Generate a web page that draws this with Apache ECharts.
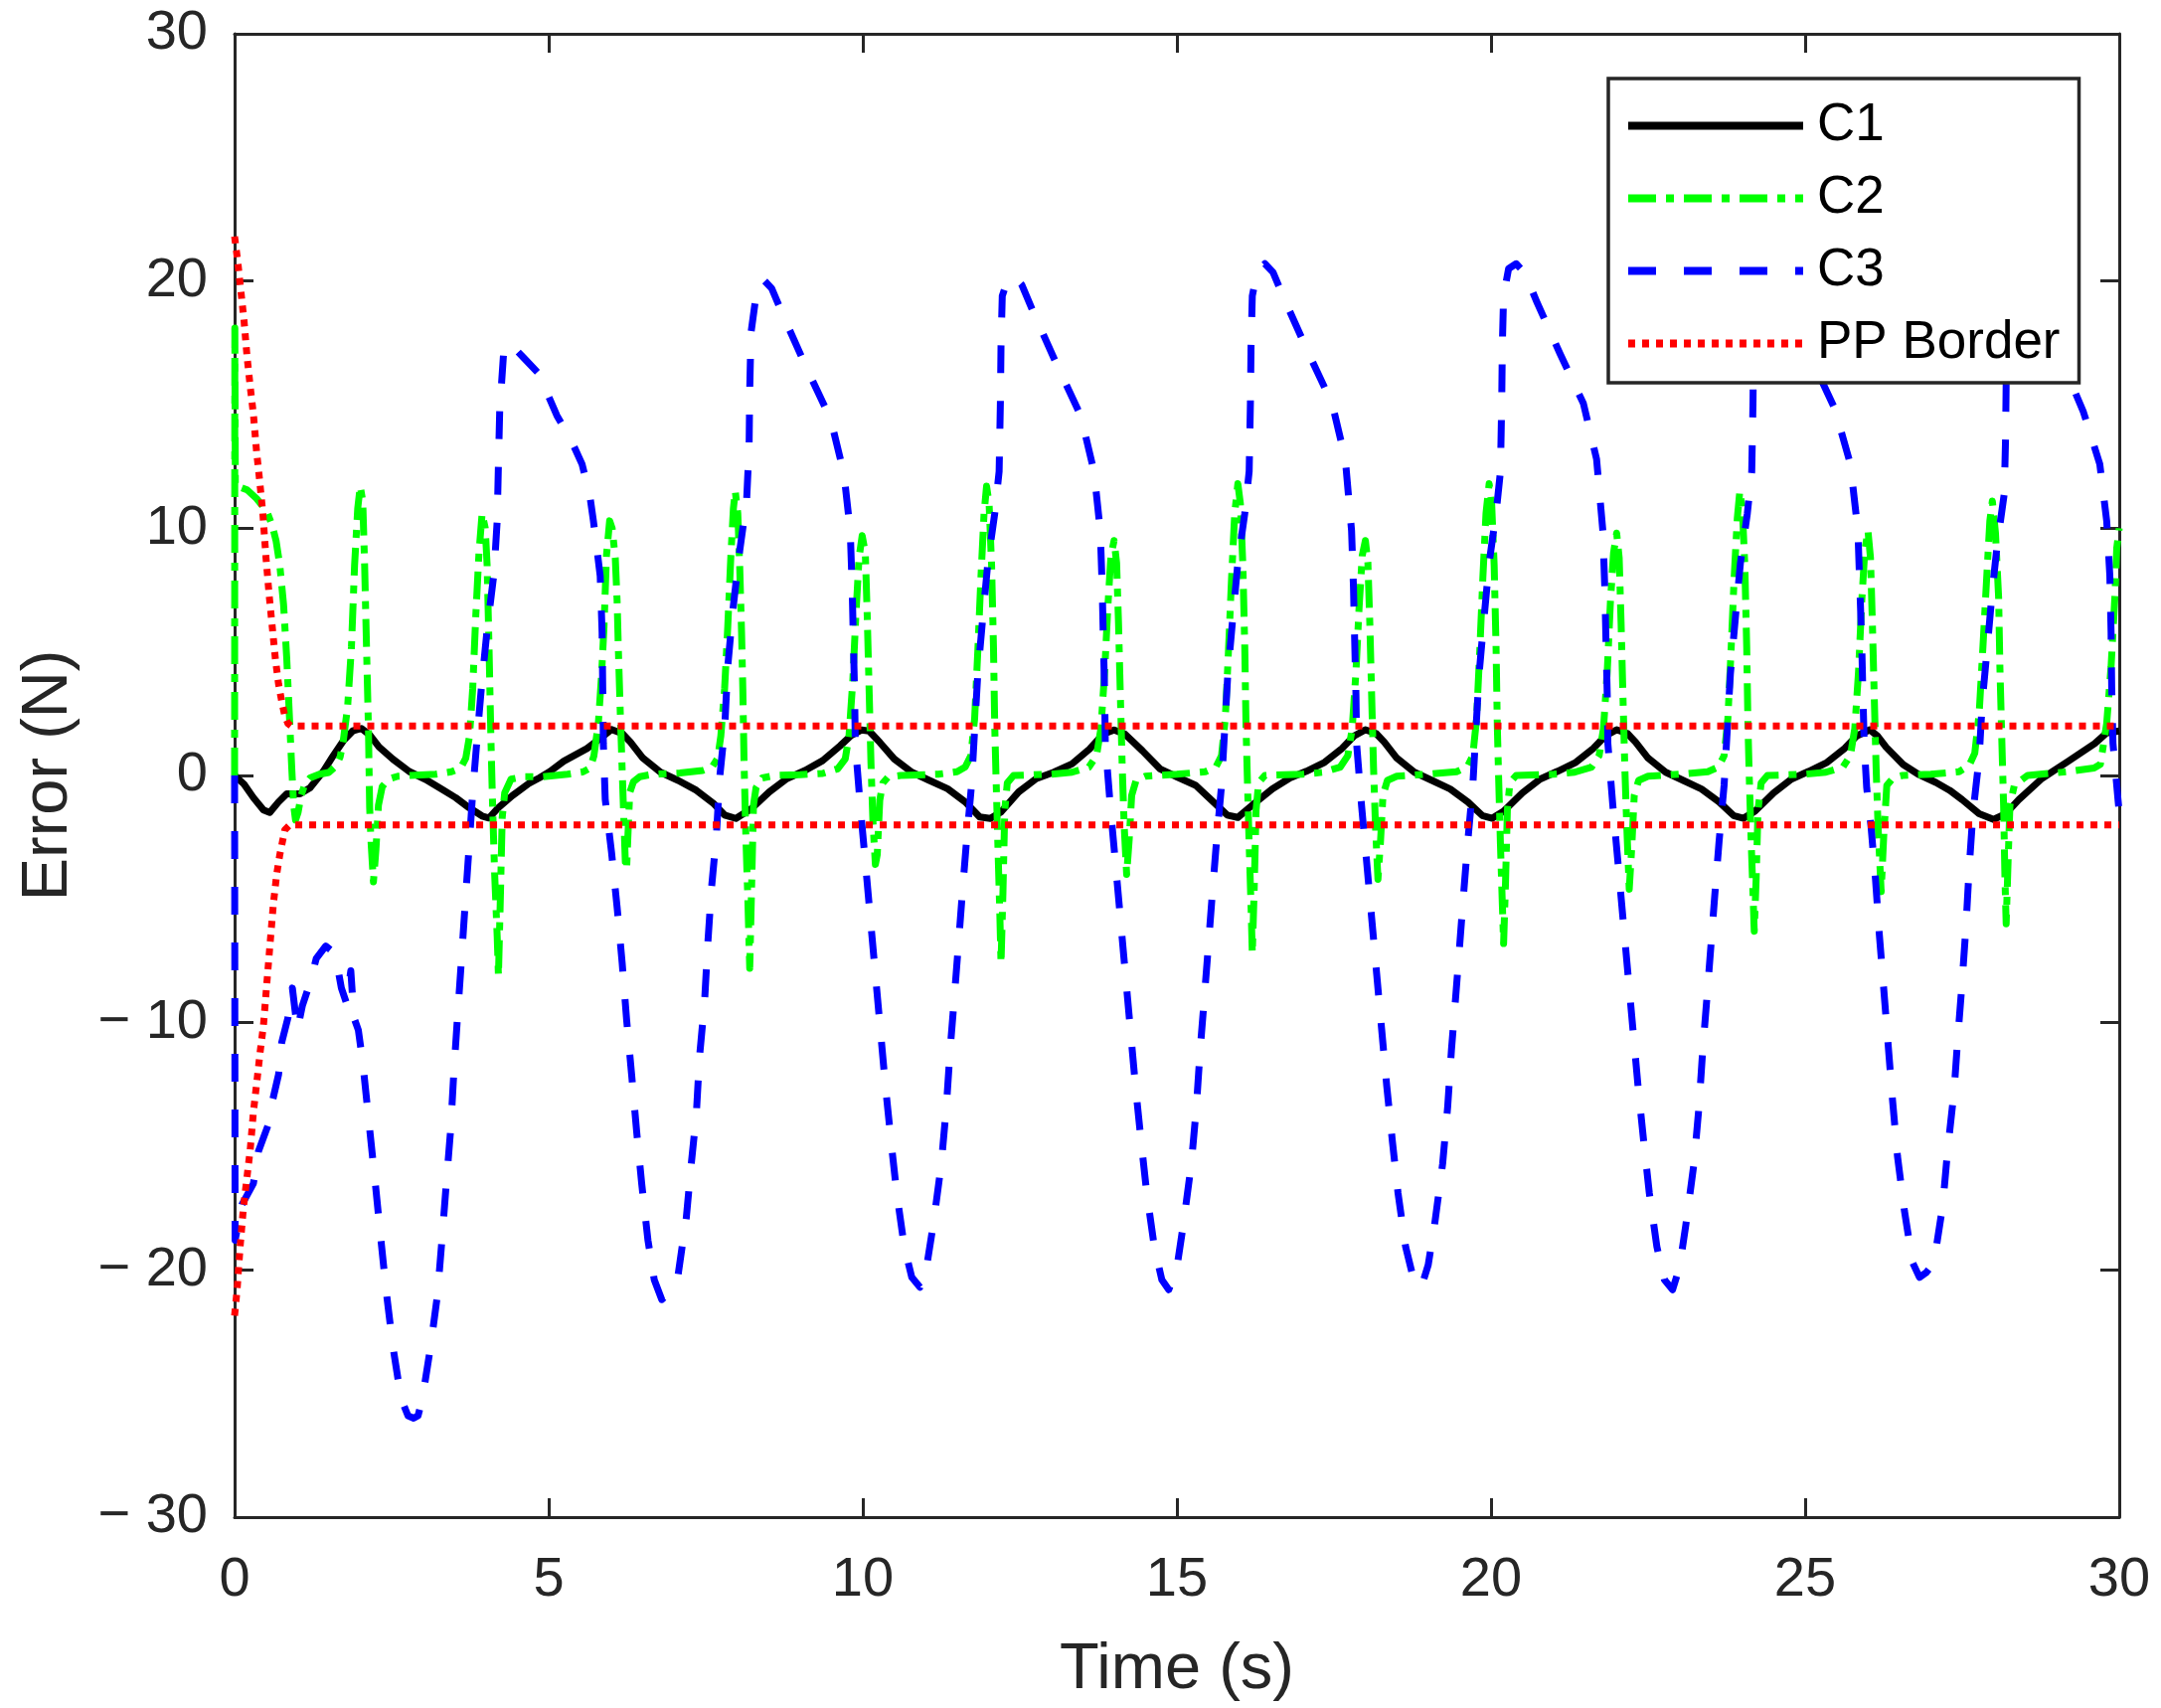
<!DOCTYPE html>
<html>
<head>
<meta charset="utf-8">
<script src="https://cdn.jsdelivr.net/npm/echarts@6/dist/echarts.min.js"></script>
<style>
html,body{margin:0;padding:0;background:#fff;}
#chart{width:2174px;height:1718px;}
</style>
</head>
<body>
<div id="chart"></div>
<script>
// ---- data ----
var seriesNames = ['C1', 'C2', 'C3', 'PP Border'];
var xTicks = [0, 5, 10, 15, 20, 25, 30];
var yTicks = [-30, -20, -10, 0, 10, 20, 30];

var c1 = [[0,0],[0.15,-0.35],[0.3,-0.9],[0.46,-1.4],[0.56,-1.5],[0.7,-1.07],[0.83,-0.74],[1.04,-0.74],[1.2,-0.5],[1.41,0.16],[1.57,0.8],[1.73,1.4],[1.88,1.8],[2.02,1.9],
[2.15,1.64],[2.3,1.15],[2.52,0.66],[2.78,0.16],[3.04,-0.16],[3.31,-0.57],[3.52,-0.9],[3.73,-1.3],[3.94,-1.64],[4.05,-1.72],[4.2,-1.3],[4.42,-0.82],[4.68,-0.33],[4.85,-0.1],[5.02,0.16],[5.24,0.58],[5.61,1.09],[5.84,1.54],[6.0,1.86],
[6.17,1.7],[6.3,1.35],[6.5,0.7],[6.78,0.13],[7.06,-0.2],[7.35,-0.6],[7.63,-1.15],[7.8,-1.6],[7.98,-1.74],[8.23,-1.34],[8.51,-0.67],[8.79,-0.13],[9.08,0.2],[9.36,0.6],[9.64,1.2],[9.81,1.61],[9.98,1.84],
[10.1,1.8],[10.27,1.34],[10.5,0.67],[10.78,0.13],[11.06,-0.2],[11.35,-0.54],[11.63,-1.07],[11.86,-1.68],[12.03,-1.74],[12.2,-1.48],[12.48,-0.67],[12.76,-0.13],[13.04,0.13],[13.33,0.47],[13.61,1.07],[13.83,1.68],[14.0,1.84],
[14.17,1.68],[14.45,1.0],[14.73,0.27],[15.01,-0.07],[15.3,-0.4],[15.58,-1.07],[15.8,-1.6],[15.97,-1.7],[16.2,-1.2],[16.52,-0.54],[16.8,-0.1],[17.06,0.17],[17.35,0.53],[17.63,1.1],[17.82,1.6],[18.0,1.85],
[18.17,1.7],[18.3,1.35],[18.5,0.7],[18.78,0.13],[19.06,-0.2],[19.35,-0.55],[19.63,-1.07],[19.86,-1.62],[20.02,-1.73],[20.2,-1.45],[20.5,-0.7],[20.78,-0.15],[21.06,0.17],[21.35,0.53],[21.63,1.1],[21.82,1.6],[22.0,1.85],
[22.17,1.7],[22.3,1.35],[22.5,0.7],[22.78,0.13],[23.06,-0.2],[23.35,-0.55],[23.63,-1.07],[23.86,-1.62],[24.02,-1.73],[24.2,-1.45],[24.5,-0.7],[24.78,-0.15],[25.06,0.17],[25.35,0.53],[25.63,1.1],[25.82,1.6],[26.03,1.85],
[26.15,1.6],[26.29,1.14],[26.56,0.44],[26.8,0.05],[27.08,-0.28],[27.3,-0.6],[27.5,-0.98],[27.77,-1.55],[28.0,-1.78],[28.19,-1.55],[28.4,-0.98],[28.77,-0.12],[29.19,0.58],[29.61,1.29],[29.8,1.72],[30,1.8]];

var c2 = [[0,0],[0.004,18.1],[0.012,11.7],[0.1,11.65],[0.2,11.55],[0.35,11.2],[0.51,10.7],[0.6,10.1],[0.66,9.5],[0.72,8.5],[0.78,6.9],[0.83,4.75],[0.88,2.0],[0.91,0.3],[0.94,-1.2],[0.97,-1.8],[1.01,-1.5],[1.06,-0.8],[1.12,-0.35],[1.2,-0.1],[1.35,0.05],[1.5,0.12],[1.62,0.4],[1.68,0.75],[1.73,1.4],[1.8,2.8],[1.86,5.2],[1.91,8.5],[1.96,10.8],[2.0,11.7],[2.04,11.1],[2.07,8.5],[2.1,5.2],[2.13,2.0],[2.15,-1.3],[2.17,-2.6],[2.21,-4.3],[2.25,-3.0],[2.29,-1.2],[2.35,-0.45],[2.45,-0.15],[2.6,-0.03],[2.8,0],[3.2,0.05],[3.45,0.15],[3.6,0.3],[3.68,0.7],[3.74,1.6],[3.79,3.5],[3.84,6.5],[3.89,9.0],[3.94,10.6],[3.99,10.0],[4.02,8.5],[4.05,5.2],[4.08,1.5],[4.11,-1.5],[4.14,-4.0],[4.18,-6.5],[4.2,-8.1],[4.23,-5.0],[4.26,-1.7],[4.3,-0.7],[4.4,-0.15],[4.6,-0.05],[4.9,-0.05],[5.3,0.05],[5.55,0.15],[5.66,0.3],[5.72,0.8],[5.79,2.1],[5.84,4.0],[5.88,6.0],[5.92,8.9],[5.97,10.3],[6.01,10.0],[6.06,8.8],[6.09,7.0],[6.11,5.0],[6.14,2.5],[6.17,0.2],[6.19,-1.3],[6.22,-3.5],[6.24,-3.8],[6.26,-2.5],[6.29,-0.7],[6.35,-0.25],[6.45,-0.05],[6.66,0.05],[7.09,0.1],[7.45,0.2],[7.6,0.34],[7.69,0.7],[7.74,1.6],[7.8,3.5],[7.85,6.0],[7.9,8.9],[7.94,10.8],[7.97,11.5],[8.01,10.6],[8.04,8.5],[8.07,5.8],[8.09,3.5],[8.11,0.5],[8.14,-2.6],[8.17,-5.0],[8.2,-7.8],[8.23,-4.5],[8.26,-1.2],[8.3,-0.5],[8.4,-0.1],[8.6,0],[9.0,0.03],[9.36,0.08],[9.6,0.27],[9.72,0.67],[9.78,1.6],[9.84,3.8],[9.89,6.5],[9.94,8.8],[9.99,9.7],[10.04,9.0],[10.07,6.5],[10.1,3.5],[10.13,0.5],[10.16,-1.8],[10.2,-3.6],[10.23,-3.2],[10.27,-1.0],[10.32,-0.3],[10.4,-0.07],[10.6,0],[11.2,0.05],[11.5,0.15],[11.63,0.34],[11.72,0.8],[11.78,2.3],[11.83,5.0],[11.88,8.0],[11.93,10.6],[11.97,11.7],[12.01,11.0],[12.05,8.5],[12.08,5.2],[12.1,2.0],[12.12,0],[12.15,-2.8],[12.18,-5.5],[12.2,-7.6],[12.23,-4.8],[12.26,-1.4],[12.3,-0.3],[12.4,0],[13.0,0.05],[13.33,0.13],[13.6,0.34],[13.72,0.8],[13.79,1.9],[13.85,4.2],[13.9,6.8],[13.95,8.9],[14.0,9.5],[14.04,8.6],[14.07,6.2],[14.1,3.2],[14.13,0.3],[14.16,-2.0],[14.2,-4.0],[14.24,-2.6],[14.28,-0.8],[14.35,-0.2],[14.5,-0.03],[15.0,0.05],[15.45,0.15],[15.62,0.34],[15.71,0.8],[15.77,2.3],[15.82,5.0],[15.87,8.0],[15.92,10.6],[15.97,11.8],[16.01,11.0],[16.05,8.5],[16.08,5.2],[16.1,2.0],[16.12,0],[16.15,-2.8],[16.18,-5.3],[16.2,-7.2],[16.23,-4.6],[16.26,-1.4],[16.3,-0.3],[16.4,0],[17.0,0.05],[17.33,0.13],[17.6,0.34],[17.72,0.8],[17.79,1.9],[17.85,4.2],[17.9,6.8],[17.95,8.9],[18.0,9.5],[18.04,8.6],[18.07,6.2],[18.1,3.2],[18.13,0.3],[18.16,-2.0],[18.2,-4.2],[18.24,-2.7],[18.28,-0.8],[18.35,-0.2],[18.5,-0.03],[19.0,0.05],[19.45,0.15],[19.62,0.34],[19.71,0.8],[19.77,2.3],[19.82,5.0],[19.87,8.0],[19.92,10.6],[19.97,11.8],[20.01,11.0],[20.05,8.5],[20.08,5.2],[20.1,2.0],[20.12,0],[20.15,-2.8],[20.18,-5.2],[20.2,-6.8],[20.23,-4.4],[20.26,-1.4],[20.3,-0.3],[20.4,0],[21.0,0.05],[21.33,0.13],[21.6,0.34],[21.72,0.8],[21.79,1.9],[21.85,4.2],[21.9,7.0],[21.95,9.0],[22.0,9.8],[22.04,8.8],[22.07,6.2],[22.1,3.2],[22.13,0.3],[22.16,-2.0],[22.2,-4.6],[22.24,-2.9],[22.28,-0.8],[22.35,-0.2],[22.5,-0.03],[23.0,0.05],[23.45,0.15],[23.62,0.34],[23.71,0.8],[23.77,2.3],[23.82,5.0],[23.87,8.0],[23.92,10.4],[23.96,11.5],[24.0,10.8],[24.04,8.5],[24.07,5.2],[24.09,2.0],[24.11,0],[24.14,-2.6],[24.17,-4.8],[24.19,-6.3],[24.22,-4.2],[24.25,-1.4],[24.3,-0.3],[24.4,0],[25.0,0.05],[25.33,0.13],[25.6,0.34],[25.72,0.8],[25.79,1.9],[25.85,4.2],[25.9,7.0],[25.95,9.1],[26.0,9.9],[26.04,8.8],[26.07,6.2],[26.1,3.2],[26.13,0.3],[26.16,-2.0],[26.21,-4.7],[26.25,-2.5],[26.3,-0.4],[26.4,-0.1],[26.55,0],[27.0,0.05],[27.45,0.15],[27.61,0.4],[27.7,0.9],[27.77,2.5],[27.83,5.2],[27.89,8.0],[27.94,10.3],[27.98,11.1],[28.03,9.8],[28.08,7.2],[28.1,4.4],[28.13,1.5],[28.16,-1.3],[28.18,-4.1],[28.2,-6.0],[28.23,-3.5],[28.26,-1.2],[28.33,-0.4],[28.54,0],[29.17,0.15],[29.6,0.3],[29.7,0.45],[29.8,2.1],[29.87,4.4],[29.93,7.2],[29.96,9.2],[30.0,10.0]];

var c3 = [[0,0],[0.008,-18.8],[0.12,-17.35],[0.3,-16.5],[0.38,-15.2],[0.54,-14.1],[0.6,-13.2],[0.7,-12.1],[0.75,-10.8],[0.85,-9.8],[0.92,-8.6],[1.0,-10.3],[1.08,-9.3],[1.2,-8.4],[1.3,-7.4],[1.45,-6.9],[1.6,-7.2],[1.7,-8.6],[1.78,-9.2],[1.85,-7.9],[1.9,-9.8],[1.97,-10.3],[2.04,-11.6],[2.15,-14.3],[2.24,-16.5],[2.33,-18.8],[2.42,-21],[2.52,-23.1],[2.65,-25.2],[2.76,-25.9],[2.85,-26.0],[2.92,-25.9],[2.99,-25.2],[3.12,-23.1],[3.23,-21],[3.3,-18.8],[3.37,-16.5],[3.44,-14.3],[3.49,-12],[3.55,-9.7],[3.61,-7.5],[3.67,-5.2],[3.73,-3.0],[3.79,-0.7],[3.86,1.5],[3.93,3.6],[4.02,5.9],[4.13,8.2],[4.18,10.3],[4.2,12.6],[4.22,14.75],[4.28,17.0],[4.34,17.5],[4.45,17.3],[4.6,16.9],[4.84,16.26],[5.13,14.56],[5.35,13.6],[5.53,12.6],[5.65,11.4],[5.71,10.33],[5.78,8.9],[5.82,8.07],[5.85,5.8],[5.86,3.55],[5.87,1.29],[5.9,-0.97],[6.0,-3.1],[6.09,-5.35],[6.17,-7.6],[6.24,-9.87],[6.32,-12.1],[6.4,-14.4],[6.48,-16.5],[6.58,-18.8],[6.68,-20.4],[6.8,-21.2],[6.92,-20.9],[7.06,-20.2],[7.19,-17.9],[7.27,-15.7],[7.35,-13.7],[7.4,-11.4],[7.48,-9.2],[7.53,-6.9],[7.59,-4.6],[7.67,-2.4],[7.72,-0.13],[7.8,1.86],[7.85,4.4],[7.93,6.65],[8.03,8.9],[8.15,11.1],[8.19,13.3],[8.2,15.6],[8.22,17.9],[8.3,19.4],[8.37,19.95],[8.42,20.05],
[8.55,19.7],[8.75,18.5],[9.12,16.4],[9.49,14.4],[9.7,12.2],[9.8,9.9],[9.83,7.65],[9.85,5.4],[9.87,3.26],[9.88,1.29],[9.96,-1.25],[10.04,-3.5],[10.12,-5.77],[10.2,-8.04],[10.28,-10.3],[10.36,-12.56],[10.45,-14.8],[10.54,-16.9],[10.66,-19.06],[10.78,-20.3],[10.91,-20.7],[11.02,-19.8],[11.12,-18.2],[11.25,-15.7],[11.33,-13.4],[11.39,-11.1],[11.45,-9.2],[11.52,-6.9],[11.58,-4.9],[11.65,-2.67],[11.73,-0.4],[11.83,4.1],[11.91,6.4],[11.99,8.6],[12.1,10.6],[12.17,12.3],[12.19,15.1],[12.2,17.4],[12.22,19.4],[12.3,20.0],[12.4,20.2],
[12.53,19.85],[12.73,18.65],[13.1,16.55],[13.47,14.55],[13.68,12.3],[13.78,9.9],[13.81,7.65],[13.83,5.4],[13.85,3.26],[13.86,1.29],[13.94,-1.25],[14.02,-3.5],[14.1,-5.77],[14.18,-8.04],[14.26,-10.3],[14.34,-12.56],[14.43,-14.8],[14.52,-16.9],[14.64,-19.06],[14.76,-20.4],[14.87,-20.8],[15.0,-19.9],[15.1,-18.2],[15.23,-15.7],[15.31,-13.4],[15.37,-11.1],[15.43,-9.2],[15.5,-6.9],[15.56,-4.9],[15.63,-2.67],[15.71,-0.4],[15.81,4.1],[15.89,6.4],[15.97,8.6],[16.08,10.6],[16.15,12.3],[16.17,15.1],[16.18,17.4],[16.2,19.4],[16.28,20.4],[16.4,20.7],
[16.53,20.35],[16.73,19.15],[17.1,17.05],[17.47,15.05],[17.68,12.8],[17.78,9.9],[17.81,7.65],[17.83,5.4],[17.85,3.26],[17.86,1.29],[17.94,-1.25],[18.02,-3.5],[18.1,-5.77],[18.18,-8.04],[18.26,-10.3],[18.34,-12.56],[18.43,-14.8],[18.52,-16.9],[18.64,-19.06],[18.76,-20.3],[18.89,-20.7],[19.0,-19.8],[19.1,-18.2],[19.23,-15.7],[19.31,-13.4],[19.37,-11.1],[19.43,-9.2],[19.5,-6.9],[19.56,-4.9],[19.63,-2.67],[19.71,-0.4],[19.81,4.1],[19.89,6.4],[19.97,8.6],[20.08,10.6],[20.15,12.3],[20.17,15.1],[20.18,17.4],[20.2,19.4],[20.28,20.5],[20.4,20.7],
[20.53,20.35],[20.73,19.15],[21.1,17.05],[21.47,15.05],[21.68,12.8],[21.78,9.9],[21.81,7.65],[21.83,5.4],[21.85,3.26],[21.86,1.29],[21.94,-1.25],[22.02,-3.5],[22.1,-5.77],[22.18,-8.04],[22.26,-10.3],[22.34,-12.56],[22.43,-14.8],[22.52,-16.9],[22.64,-19.06],[22.76,-20.4],[22.89,-20.8],[23.0,-19.9],[23.1,-18.2],[23.23,-15.7],[23.31,-13.4],[23.37,-11.1],[23.43,-9.2],[23.5,-6.9],[23.56,-4.9],[23.63,-2.67],[23.71,-0.4],[23.81,4.1],[23.89,6.4],[23.97,8.6],[24.08,10.6],[24.15,12.3],[24.17,15.1],[24.18,17.4],[24.2,19.4],[24.28,20.3],[24.4,20.5],
[24.53,20.15],[24.73,18.95],[25.1,16.85],[25.47,14.85],[25.72,12.6],[25.84,9.9],[25.87,7.65],[25.9,5.4],[25.92,3.26],[25.94,1.29],[25.98,-0.5],[26.05,-2.1],[26.12,-4.2],[26.18,-6.4],[26.25,-8.6],[26.32,-10.85],[26.39,-13.1],[26.47,-15.4],[26.58,-17.6],[26.71,-19.7],[26.82,-20.3],[26.93,-20.1],[27.05,-19.7],[27.19,-17.4],[27.27,-15.1],[27.37,-12.8],[27.43,-10.6],[27.5,-8.33],[27.56,-6.1],[27.61,-3.8],[27.67,-1.55],[27.77,0.72],[27.82,3.0],[27.9,5.2],[27.98,7.5],[28.06,9.4],[28.17,11.4],[28.19,13.6],[28.2,15.9],[28.22,18.0],[28.28,19.8],[28.4,20.4],
[28.53,20.05],[28.73,18.85],[29.1,16.7],[29.43,14.7],[29.69,12.6],[29.8,10.3],[29.85,8.1],[29.87,5.8],[29.88,3.55],[29.9,1.3],[29.98,-0.97],[30,-1.5]];

var ppUpper = [[0,21.8],[0.05,20.8],[0.1,19.6],[0.15,18.4],[0.2,16.9],[0.25,15.7],[0.3,14.6],[0.35,13.1],[0.4,11.9],[0.45,10.6],[0.5,8.8],[0.55,7.3],[0.6,6.0],[0.65,4.7],[0.7,3.7],[0.75,3.0],[0.8,2.4],[0.85,2.1],[0.9,2.0],[30,2.0]];
var ppLower = [[0,-21.85],[0.04,-20.8],[0.09,-19.0],[0.14,-17.5],[0.195,-16.3],[0.25,-15.1],[0.3,-13.6],[0.354,-12.4],[0.406,-11.2],[0.46,-10.1],[0.51,-8.5],[0.565,-6.8],[0.617,-5.2],[0.67,-4.0],[0.72,-3.2],[0.8,-2.2],[0.88,-2.0],[30,-2.0]];

// ---- chart ----
var FONT = '"Liberation Sans", Arial, Helvetica, sans-serif';
var AX = '#262626';
var chart = echarts.init(document.getElementById('chart'), null, {renderer: 'canvas'});

function fmtY(v) { return v < 0 ? '\u2212 ' + Math.abs(v) : String(v); }

function xAx(pos, withLabels) {
  return {
    type: 'value', position: pos, min: xTicks[0], max: xTicks[xTicks.length - 1], interval: 5,
    name: withLabels ? 'Time (s)' : '', nameLocation: 'middle', nameGap: 122,
    nameTextStyle: {fontSize: 65, color: AX, fontFamily: FONT},
    axisLine: {show: true, onZero: false, lineStyle: {color: AX, width: 3}},
    axisTick: {show: true, inside: true, length: 19, lineStyle: {color: AX, width: 3}},
    axisLabel: {show: withLabels, fontSize: 56, color: AX, fontFamily: FONT, margin: 36},
    splitLine: {show: false}
  };
}
function yAx(pos, withLabels) {
  return {
    type: 'value', position: pos, min: yTicks[0], max: yTicks[yTicks.length - 1], interval: 10,
    name: withLabels ? 'Error (N)' : '', nameLocation: 'middle', nameGap: 154,
    nameTextStyle: {fontSize: 65, color: AX, fontFamily: FONT},
    axisLine: {show: true, onZero: false, lineStyle: {color: AX, width: 3}},
    axisTick: {show: true, inside: true, length: 19, lineStyle: {color: AX, width: 3}},
    axisLabel: {show: withLabels, fontSize: 56, color: AX, fontFamily: FONT, margin: 27, formatter: fmtY},
    splitLine: {show: false}
  };
}

function lineSeries(name, data, color, type) {
  return {
    name: name, type: 'line', data: data, xAxisIndex: 0, yAxisIndex: 0,
    symbol: 'none', showSymbol: false, smooth: false, clip: true, animation: false,
    lineStyle: {color: color, width: 7, type: type, cap: 'butt', join: 'round'},
    itemStyle: {color: color},
    emphasis: {disabled: true}
  };
}

var option = {
  animation: false,
  backgroundColor: '#ffffff',
  grid: {left: 236, right: 42, top: 34, bottom: 192, containLabel: false},
  xAxis: [xAx('bottom', true), xAx('top', false)],
  yAxis: [yAx('left', true), yAx('right', false)],
  legend: {
    data: seriesNames, orient: 'vertical', left: 1618, top: 79,
    padding: [21, 19, 13, 16], itemGap: 20, itemWidth: 176, itemHeight: 14,
    backgroundColor: '#ffffff', borderColor: AX, borderWidth: 3.5, borderRadius: 0,
    selectedMode: false,
    lineStyle: {width: 8},
    itemStyle: {color: 'rgba(0,0,0,0)', borderWidth: 0, opacity: 0},
    textStyle: {fontSize: 53, color: '#000000', fontFamily: FONT, padding: [0, 0, 0, 9]},
    z: 10
  },
  series: [
    lineSeries(seriesNames[0], c1, '#000000', 'solid'),
    lineSeries(seriesNames[1], c2, '#00ff00', [28, 10, 8, 10]),
    lineSeries(seriesNames[2], c3, '#0000ff', [28, 28]),
    lineSeries(seriesNames[3], ppUpper, '#ff0000', [7, 7]),
    lineSeries(seriesNames[3], ppLower, '#ff0000', [7, 7])
  ]
};
chart.setOption(option);
</script>
</body>
</html>
